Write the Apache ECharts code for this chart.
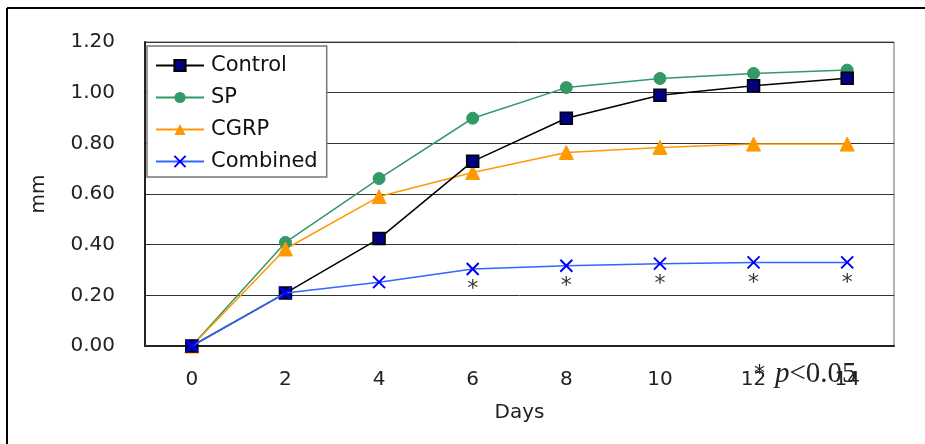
<!DOCTYPE html>
<html><head><meta charset="utf-8">
<script src="https://cdn.jsdelivr.net/npm/echarts@6/dist/echarts.min.js"></script>
<style>html,body{margin:0;padding:0;background:#fff}#c{width:925px;height:444px}</style>
</head><body><div id="c"></div>
<script>
const days = ['0','2','4','6','8','10','12','14'];
const control  = [0, 0.209, 0.424, 0.729, 0.899, 0.99, 1.027, 1.057];
const sp       = [0, 0.409, 0.661, 0.899, 1.02, 1.056, 1.076, 1.089];
const cgrp     = [0, 0.383, 0.59, 0.685, 0.764, 0.784, 0.797, 0.797];
const combined = [0, 0.209, 0.252, 0.304, 0.317, 0.325, 0.33, 0.33];
const sig      = [false, false, false, true, true, true, true, true];
const yTicks = { min: 0, max: 1.2, interval: 0.2 };

const chart = echarts.init(document.getElementById('c'), null, {renderer:'canvas'});
const font = 'DejaVu Sans, sans-serif';
const xPath = 'path://M0,0L10,10M10,0L0,10';
chart.setOption({
  animation: false,
  backgroundColor: '#fff',
  grid: { left: 145, right: 31, top: 42, bottom: 98, show: true, borderColor: '#666', borderWidth: 1 },
  legend: {
    orient: 'vertical', left: 147, top: 46,
    backgroundColor: '#fff', borderColor: '#777', borderWidth: 1.5,
    padding: [9, 9, 5, 8], itemGap: 11, itemWidth: 48, itemHeight: 14,
    textStyle: { fontSize: 21, fontFamily: font, color: '#111', padding: [0,0,0,2] },
    data: ['Control','SP','CGRP','Combined']
  },
  xAxis: {
    type: 'category', data: days, boundaryGap: true,
    name: 'Days', nameLocation: 'middle', nameGap: 57,
    nameTextStyle: { fontSize: 20, fontFamily: font, color: '#222' },
    axisLine: { lineStyle: { color: '#222', width: 2 } },
    axisTick: { inside: true, length: 6, lineStyle: { color: '#222' } },
    axisLabel: { fontSize: 20, fontFamily: font, color: '#222', margin: 24 },
    splitLine: { show: false }
  },
  yAxis: {
    type: 'value', min: yTicks.min, max: yTicks.max, interval: yTicks.interval,
    name: 'mm', nameLocation: 'middle', nameGap: 96,
    nameTextStyle: { fontSize: 20, fontFamily: font, color: '#222' },
    axisLine: { show: true, lineStyle: { color: '#222', width: 2 } },
    axisTick: { show: false },
    axisLabel: { fontSize: 20, fontFamily: font, color: '#222', margin: 30,
      formatter: v => v.toFixed(2) },
    splitLine: { lineStyle: { color: '#333', width: 1 } }
  },
  series: [
    { name: 'Control', type: 'line', data: control, symbol: 'rect', symbolSize: 12,
      lineStyle: { color: '#000', width: 1.5 },
      itemStyle: { color: '#000080', borderColor: '#000', borderWidth: 1.5 }, z: 3 },
    { name: 'SP', type: 'line', data: sp, symbol: 'circle', symbolSize: 12,
      lineStyle: { color: '#339966', width: 1.5 },
      itemStyle: { color: '#339966', borderColor: '#339966' }, z: 2 },
    { name: 'CGRP', type: 'line', data: cgrp, symbol: 'triangle', symbolSize: 14,
      lineStyle: { color: '#FF9900', width: 1.5 },
      itemStyle: { color: '#FF9900', borderColor: '#FF9900' }, z: 2 },
    { name: 'Combined', type: 'line', data: combined.map((v,i)=>({value:v,
        label:{show:sig[i]}})), symbol: xPath, symbolSize: 12,
      lineStyle: { color: '#3366FF', width: 1.5 },
      itemStyle: { color: 'none', borderColor: '#0000FF', borderWidth: 2 },
      label: { show: false, position: 'bottom', distance: 1, formatter: '*',
        fontSize: 22, fontFamily: font, color: '#333' }, z: 4 }
  ],
  graphic: [
    { type: 'line', shape: { x1: 7, y1: 8, x2: 925, y2: 8 }, style: { stroke: '#000', lineWidth: 2 } },
    { type: 'line', shape: { x1: 7, y1: 8, x2: 7, y2: 444 }, style: { stroke: '#000', lineWidth: 2 } },
    { type: 'text', left: 754, top: 360, style: {
        text: '{a|*}{s| }{b|p}{c|<0.05}',
        rich: {
          a: { fontSize: 22, fontFamily: font, fill: '#222' },
          s: { fontSize: 22, fontFamily: font, width: 10 },
          b: { fontSize: 29, fontFamily: 'Liberation Serif, serif', fontStyle: 'italic', fill: '#222' },
          c: { fontSize: 29, fontFamily: 'Liberation Serif, serif', fill: '#222' }
        } } }
  ]
});
</script></body></html>
